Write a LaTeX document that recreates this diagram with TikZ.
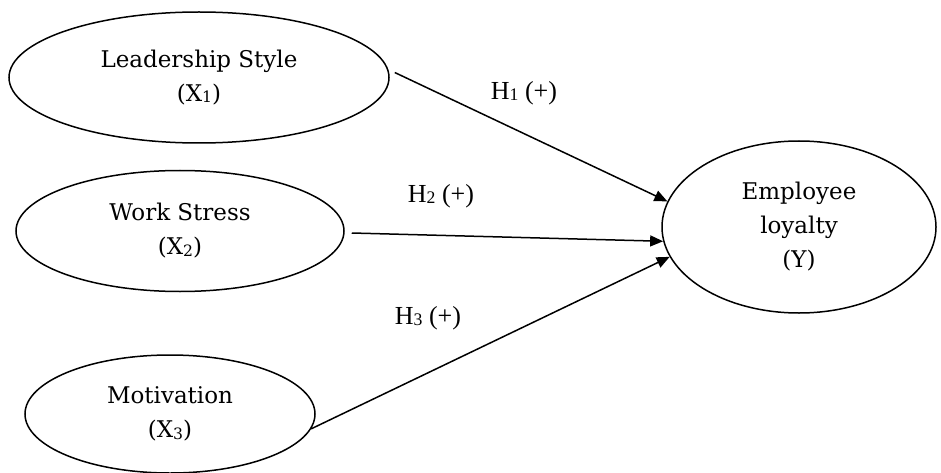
\documentclass[tikz,border=0pt]{standalone}
\usepackage{fontspec}
\setmainfont{Liberation Serif}
\newfontfamily\ellfont{DejaVu Serif}
\usetikzlibrary{shapes.geometric,arrows.meta}
\newcommand\sbx[1]{\raisebox{-0.12ex}{\scalebox{0.68}{#1}}}
\begin{document}
\begin{tikzpicture}[x=1pt,y=-1pt,
  latent/.style={ellipse, draw, line width=1.5pt, inner sep=0pt, align=center,
    font=\ellfont\fontsize{23}{34}\selectfont},
  relpath/.style={line width=1.5pt, -{Triangle[length=13pt,width=11pt]}},
  hlabel/.style={font=\fontsize{26}{30}\selectfont, inner sep=0pt}]
\useasboundingbox (0,0) rectangle (941,473);

\node[latent, minimum width=380pt, minimum height=131pt] (L) at (199,77.5)
  {Leadership Style\\(X\sbx{1})};
\node[latent, minimum width=328pt, minimum height=121pt] (W) at (180,231)
  {Work Stress\\(X\sbx{2})};
\node[latent, minimum width=290pt, minimum height=118pt] (M) at (170,414)
  {Motivation\\(X\sbx{3})};
\node[latent, minimum width=274pt, minimum height=172pt] (E) at (799,227)
  {Employee\\loyalty\\(Y)};

\draw[relpath] ([xshift=5pt,yshift=5pt]L.east) -- (E.169);
\draw[relpath] ([xshift=7pt,yshift=-2pt]W.east) -- (E.186);
\draw[relpath] (M.-6) -- (E.193);

\node[hlabel] (h1) at (524,93) {H\sbx{1} (+)};
\node[hlabel] (h2) at (441,196) {H\sbx{2} (+)};
\node[hlabel] (h3) at (428,318) {H\sbx{3} (+)};
\end{tikzpicture}
\end{document}
